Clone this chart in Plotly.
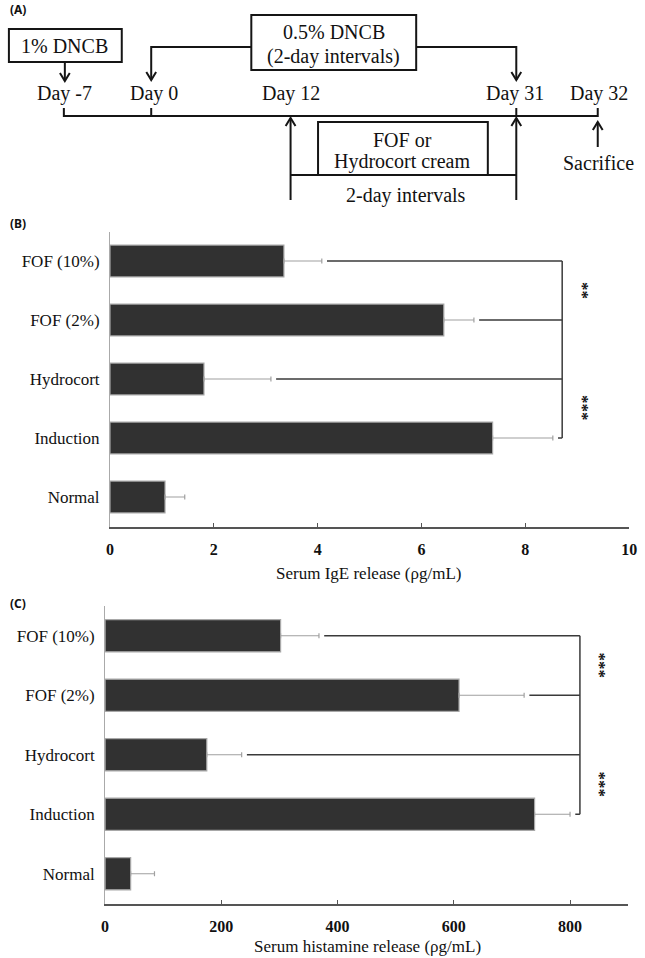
import plotly.graph_objects as go

# ---------------- data ----------------
groups = ["Normal", "Induction", "Hydrocort", "FOF (2%)", "FOF (10%)"]
ige_mean = [1.06, 7.37, 1.81, 6.43, 3.35]
ige_sd = [0.38, 1.16, 1.29, 0.58, 0.73]
his_mean = [44, 739, 175, 609, 302]
his_sd = [41, 61, 60, 112, 66]
ige_ticks = [0, 2, 4, 6, 8, 10]
his_ticks = [0, 200, 400, 600, 800]
ige_title = "Serum IgE release (ρg/mL)"
his_title = "Serum histamine release (ρg/mL)"
# significance (bracketed groups, stars placed between pairs)
ige_sig = [(3.5, "**"), (1.5, "***")]
his_sig = [(3.5, "***"), (1.5, "***")]
ige_bracket = 8.71
his_bracket = 817

W, H = 645, 958
SERIF = "Liberation Serif, Times New Roman, serif"
SANS = "Noto Sans, DejaVu Sans, sans-serif"
BAR = "#313131"
EDGE = "#a8a8a8"


def px(x):
    return x / W


def py(y):
    return 1 - y / H


fig = go.Figure()


def add_bars(vals, sd, xa, ya):
    fig.add_trace(go.Bar(
        x=vals, y=groups, orientation="h", xaxis=xa, yaxis=ya,
        marker=dict(color=BAR, line=dict(color=EDGE, width=1.2)),
        error_x=dict(type="data", symmetric=False, array=sd,
                     arrayminus=[0] * len(sd), color="#a0a0a0",
                     thickness=1.2, width=2.5),
        showlegend=False, hoverinfo="skip"))


add_bars(ige_mean, ige_sd, "x", "y")
add_bars(his_mean, his_sd, "x2", "y2")

axis_common = dict(showgrid=False, zeroline=False)
fig.update_layout(
    width=W, height=H, margin=dict(l=0, r=0, t=0, b=0),
    paper_bgcolor="white", plot_bgcolor="rgba(0,0,0,0)",
    bargap=0.46,
    xaxis=dict(domain=[px(108), px(637)], range=[0, 10], anchor="y",
               tickvals=ige_ticks, ticks="inside", ticklen=4,
               tickcolor="#555", showline=True, linecolor="#555",
               linewidth=1.5, ticklabelstandoff=8,
               tickfont=dict(family=SERIF, size=16, color="#111",
                             weight="bold"), **axis_common),
    yaxis=dict(domain=[py(526.5), py(231.5)], anchor="x",
               categoryorder="array", categoryarray=groups,
               range=[-0.5, 4.5], showline=True, linecolor="#aaa",
               linewidth=1, ticks="", ticklabelstandoff=6,
               tickfont=dict(family=SERIF, size=17, color="#111"),
               **axis_common),
    xaxis2=dict(domain=[px(103), px(636)], range=[0, 900], anchor="y2",
                tickvals=his_ticks, ticks="inside", ticklen=4,
                tickcolor="#555", showline=True, linecolor="#555",
                linewidth=1.5, ticklabelstandoff=8,
                tickfont=dict(family=SERIF, size=16, color="#111",
                              weight="bold"), **axis_common),
    yaxis2=dict(domain=[py(903.5), py(606)], anchor="x2",
                categoryorder="array", categoryarray=groups,
                range=[-0.5, 4.5], showline=True, linecolor="#aaa",
                linewidth=1, ticks="", ticklabelstandoff=6,
                tickfont=dict(family=SERIF, size=17, color="#111"),
                **axis_common),
)

shapes = []
annotations = []


# ---------- significance brackets ----------
def add_brackets(mean, sd, bx, gap, xr, yr, sig, star_x):
    for g, m, s in zip(groups, mean, sd):
        if g == "Normal":
            continue
        shapes.append(dict(type="line", xref=xr, yref=yr,
                           x0=m + s + gap, x1=bx, y0=g, y1=g,
                           line=dict(color="#3a3a3a", width=1.5)))
    shapes.append(dict(type="line", xref=xr, yref=yr, x0=bx, x1=bx,
                       y0="FOF (10%)", y1="Induction",
                       line=dict(color="#3a3a3a", width=1.5)))
    for yv, txt in sig:
        annotations.append(dict(xref=xr, yref=yr, x=star_x, y=yv, text=txt,
                                showarrow=False, textangle=90,
                                font=dict(family=SERIF, size=17,
                                          color="#111", weight="bold"),
                                xanchor="center", yanchor="middle"))


add_brackets(ige_mean, ige_sd, ige_bracket, 0.1, "x", "y", ige_sig, 9.1)
add_brackets(his_mean, his_sd, his_bracket, 9, "x2", "y2", his_sig, 850)

# axis titles
annotations.append(dict(xref="paper", yref="paper", x=px(372), y=py(573),
                        text=ige_title, showarrow=False,
                        xanchor="center", yanchor="middle",
                        font=dict(family=SERIF, size=17, color="#111")))
annotations.append(dict(xref="paper", yref="paper", x=px(370), y=py(946),
                        text=his_title, showarrow=False,
                        xanchor="center", yanchor="middle",
                        font=dict(family=SERIF, size=17, color="#111")))

# panel letters
for lab, (lx, ly) in {"(A)": (4, 9), "(B)": (4, 223), "(C)": (4, 603)}.items():
    annotations.append(dict(xref="paper", yref="paper", x=px(lx), y=py(ly),
                            text=lab, showarrow=False, xanchor="left",
                            yanchor="middle",
                            font=dict(family=SANS, size=12, color="#111",
                                      weight="bold")))

# ---------------- panel A: timeline diagram ----------------
LC = "#151515"
LW = 2


def path(pts):
    d = "M " + " L ".join(f"{px(x):.5f},{py(y):.5f}" for x, y in pts)
    shapes.append(dict(type="path", xref="paper", yref="paper", path=d,
                       line=dict(color=LC, width=LW)))


def rect(x0, y0, x1, y1):
    shapes.append(dict(type="rect", xref="paper", yref="paper",
                       x0=px(x0), x1=px(x1), y0=py(y1), y1=py(y0),
                       line=dict(color=LC, width=LW), fillcolor="white"))


def head_down(x, y):
    path([(x - 5, y - 8), (x, y), (x + 5, y - 8)])


def head_up(x, y):
    path([(x - 5, y + 8), (x, y), (x + 5, y + 8)])


def text(x, y, t, size=20):
    annotations.append(dict(xref="paper", yref="paper", x=px(x), y=py(y),
                            text=t, showarrow=False, xanchor="center",
                            yanchor="middle",
                            font=dict(family=SERIF, size=size, color="#111")))


# boxes
rect(5, 29, 120, 62)
rect(252, 15, 420, 70)
rect(320, 122, 493, 175)
text(62, 46, "1% DNCB")
text(336, 32, "0.5% DNCB")
text(336, 57, "(2-day intervals)")
text(406, 140, "FOF or")
text(406, 162, "Hydrocort cream")

# arrows from boxes
path([(62, 62), (62, 81)])
head_down(62, 81)
path([(252, 47), (150, 47), (150, 80)])
head_down(150, 80)
path([(420, 47), (522, 47), (522, 80)])
head_down(522, 80)

# day labels
text(62, 93, "Day -7")
text(153, 93, "Day 0")
text(292, 93, "Day 12")
text(521, 93, "Day 31")
text(606, 93, "Day 32")

# timeline
path([(61, 108), (61, 116), (605, 116), (605, 108)])
path([(150, 108), (150, 116)])
path([(522, 108), (522, 116)])

# treatment arrows
path([(292, 200), (292, 118)])
head_up(292, 118)
path([(522, 200), (522, 118)])
head_up(522, 118)
path([(292, 175), (522, 175)])
text(410, 195, "2-day intervals")

# sacrifice
path([(605, 147), (605, 122)])
head_up(605, 122)
text(606, 163, "Sacrifice")

fig.update_layout(shapes=shapes, annotations=annotations)
fig.write_html(
    "out.html",
    config={"displayModeBar": False},
    post_script="document.body.style.margin='0';"
                "document.body.style.padding='0';"
                "document.body.style.overflow='hidden';")
